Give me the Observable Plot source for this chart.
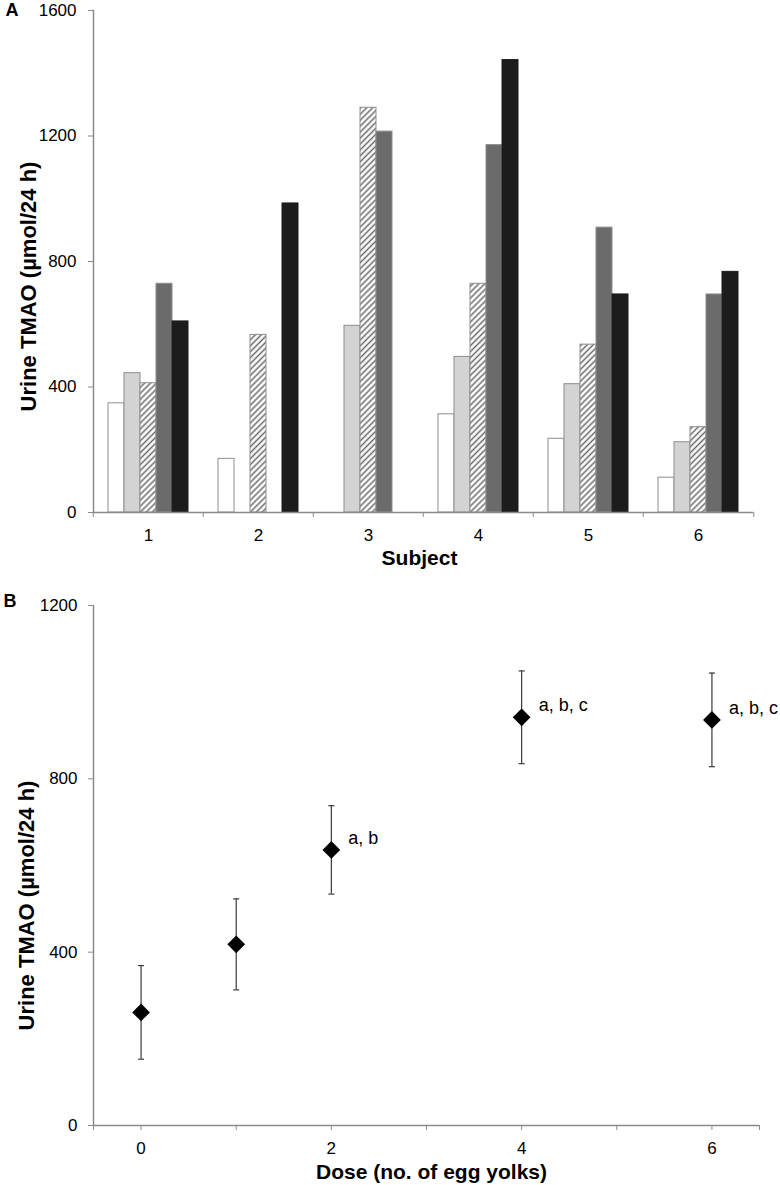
<!DOCTYPE html>
<html><head><meta charset="utf-8">
<script src="https://cdn.jsdelivr.net/npm/d3@7"></script>
<script src="https://cdn.jsdelivr.net/npm/@observablehq/plot@0.6"></script>
<style>
body{margin:0;background:#fff;font-family:"Liberation Sans",Arial,sans-serif;}
#chart svg{display:block;}
</style></head><body><div id="chart"></div>
<script>
// ---------- Panel A data: urine TMAO per subject, by dose (egg yolks) ----------
const subjects = [1, 2, 3, 4, 5, 6];
const doses = ["0", "1", "2", "4", "6"];
const dose0 = [348, 171, null, 313, 235, 111];
const dose1 = [444, null, 595, 496, 409, 224];
const dose2 = [412, 566, 1290, 729, 535, 272];
const dose4 = [729, null, 1214, 1171, 908, 695];
const dose6 = [609, 985, null, 1442, 695, 767];
const barFills = ["#ffffff", "#d3d3d3", "url(#hatch)", "#6b6b6b", "#1c1c1c"];
const yTicksA = [0, 400, 800, 1200, 1600];

// ---------- Panel B data: mean ± SEM by dose ----------
const meanDose = [0, 1, 2, 4, 6];
const meanTMAO = [261, 418, 636, 942, 936];
const semTMAO = [108, 105, 102, 107, 108];
const sigLabels = ["", "", "a, b", "a, b, c", "a, b, c"];
const xTicksB = [-0.5, 0, 1, 2, 3, 4, 5, 6, 6.5];
const xLabelsB = [0, 2, 4, 6];
const yTicksB = [0, 400, 800, 1200];

const yTitle = "Urine TMAO (µmol/24 h)";
const font = '"Liberation Sans", Arial, sans-serif';
const axisColor = "#8a8a8a";
const W = 780;

const seriesValues = [dose0, dose1, dose2, dose4, dose6];
const rowsA = [];
doses.forEach((d, i) => subjects.forEach((s, j) => rowsA.push({subject: s, dose: d, value: seriesValues[i][j]})));
const rowsB = meanDose.map((d, i) => ({dose: d, mean: meanTMAO[i], lo: meanTMAO[i] - semTMAO[i], hi: meanTMAO[i] + semTMAO[i], label: sigLabels[i]}));

// ---------- Panel A ----------
const mLA = 91, mRA = 26;
const facetW = (W - mLA - mRA) / subjects.length;
const chartA = Plot.plot({
  width: W, height: 575,
  marginLeft: mLA, marginRight: mRA, marginTop: 10, marginBottom: 63,
  style: {fontFamily: font, fontSize: "17px", color: "#000", background: "#fff", overflow: "visible"},
  fx: {domain: subjects, padding: 0, label: null},
  x: {domain: doses, paddingInner: 0, paddingOuter: 0.77, axis: null},
  y: {domain: [0, 1600], label: null},
  color: {domain: doses, range: barFills},
  marks: [
    Plot.barY(rowsA, {filter: d => d.dose !== "6" && d.value != null, fx: "subject", x: "dose", y: "value", fill: "dose", stroke: "#8e8e8e", strokeWidth: 1}),
    Plot.barY(rowsA, {filter: d => d.dose === "6" && d.value != null, fx: "subject", x: "dose", y: "value", fill: "dose", stroke: "#1c1c1c", strokeWidth: 1}),
    Plot.ruleY([0], {stroke: axisColor, strokeWidth: 1.5}),
    Plot.frame({anchor: "left", facetAnchor: "left", stroke: axisColor, strokeWidth: 1.5}),
    Plot.axisY({ticks: yTicksA, tickSize: 5, tickPadding: 12, stroke: axisColor, fill: "#000", fontSize: 17, tickFormat: d => String(d), label: null}),
    Plot.axisFx({anchor: "bottom", tickSize: 0, tickPadding: 16, fill: "#000", fontSize: 17, tickFormat: d => String(d), label: null}),
    Plot.axisFx({anchor: "bottom", tickSize: 5, tickFormat: () => "", dx: -facetW / 2, stroke: axisColor, label: null}),
    Plot.axisFx({anchor: "bottom", ticks: [subjects[subjects.length - 1]], tickSize: 5, tickFormat: () => "", dx: facetW / 2, stroke: axisColor, label: null}),
    Plot.text(["Subject"], {facet: "super", frameAnchor: "bottom", dx: -4, dy: 46, lineAnchor: "middle", textAnchor: "middle", fontWeight: "bold", fontSize: 21, fill: "#000"}),
    Plot.text([yTitle], {facet: "super", frameAnchor: "left", rotate: -90, dx: -65, dy: 25, lineAnchor: "middle", textAnchor: "middle", fontWeight: "bold", fontSize: 22, fill: "#000"}),
    Plot.text(["A"], {facet: "super", frameAnchor: "top-left", dx: -88, dy: 0, lineAnchor: "middle", textAnchor: "start", fontWeight: "bold", fontSize: 18, fill: "#000"})
  ]
});

// hatch pattern for the "2 egg yolks" bars
const ns = "http://www.w3.org/2000/svg";
const defs = document.createElementNS(ns, "defs");
defs.innerHTML = '<pattern id="hatch" patternUnits="userSpaceOnUse" width="4.2" height="4.2" patternTransform="rotate(45)">' +
  '<rect width="4.2" height="4.2" fill="#ffffff"/><line x1="2.1" y1="0" x2="2.1" y2="4.2" stroke="#6a6a6a" stroke-width="1.5"/></pattern>';
chartA.insertBefore(defs, chartA.firstChild);

// ---------- Panel B ----------
const capSymbol = {draw(context, size) { context.moveTo(-3, 0); context.lineTo(3, 0); }};
const chartB = Plot.plot({
  width: W, height: 610,
  marginLeft: 93, marginRight: 21, marginTop: 30, marginBottom: 60,
  style: {fontFamily: font, fontSize: "17px", color: "#000", background: "#fff", overflow: "visible"},
  x: {domain: [-0.5, 6.5], label: null},
  y: {domain: [0, 1200], label: null},
  marks: [
    Plot.ruleY([0], {stroke: axisColor, strokeWidth: 1.5}),
    Plot.ruleX([-0.5], {stroke: axisColor, strokeWidth: 1.5}),
    Plot.axisY({ticks: yTicksB, tickSize: 5, tickPadding: 11, stroke: axisColor, fill: "#000", fontSize: 17, tickFormat: d => String(d), label: null}),
    Plot.axisX({ticks: xTicksB, tickSize: 5, tickPadding: 11, stroke: axisColor, fill: "#000", fontSize: 17, tickFormat: d => xLabelsB.includes(d) ? String(d) : "", label: null}),
    Plot.ruleX(rowsB, {x: "dose", y1: "lo", y2: "hi", stroke: "#3a3a3a", strokeWidth: 1.2}),
    Plot.dot(rowsB, {x: "dose", y: "hi", symbol: capSymbol, stroke: "#3a3a3a", fill: "none", strokeWidth: 1.2}),
    Plot.dot(rowsB, {x: "dose", y: "lo", symbol: capSymbol, stroke: "#3a3a3a", fill: "none", strokeWidth: 1.2}),
    Plot.dot(rowsB, {x: "dose", y: "mean", symbol: "diamond2", r: 8, fill: "#000", stroke: "none"}),
    Plot.text(rowsB.filter(d => d.label), {x: "dose", y: "mean", text: "label", dx: 17, dy: -12, textAnchor: "start", fontSize: 18, fill: "#000"}),
    Plot.text(["Dose (no. of egg yolks)"], {frameAnchor: "bottom", dx: 5, dy: 47, lineAnchor: "middle", textAnchor: "middle", fontWeight: "bold", fontSize: 21, fill: "#000"}),
    Plot.text([yTitle], {frameAnchor: "left", rotate: -90, dx: -67, dy: 40, lineAnchor: "middle", textAnchor: "middle", fontWeight: "bold", fontSize: 22, fill: "#000"}),
    Plot.text(["B"], {frameAnchor: "top-left", dx: -90, dy: -4, lineAnchor: "middle", textAnchor: "start", fontWeight: "bold", fontSize: 18, fill: "#000"})
  ]
});

const root = document.getElementById("chart");
root.appendChild(chartA);
root.appendChild(chartB);
</script>
</body></html>
